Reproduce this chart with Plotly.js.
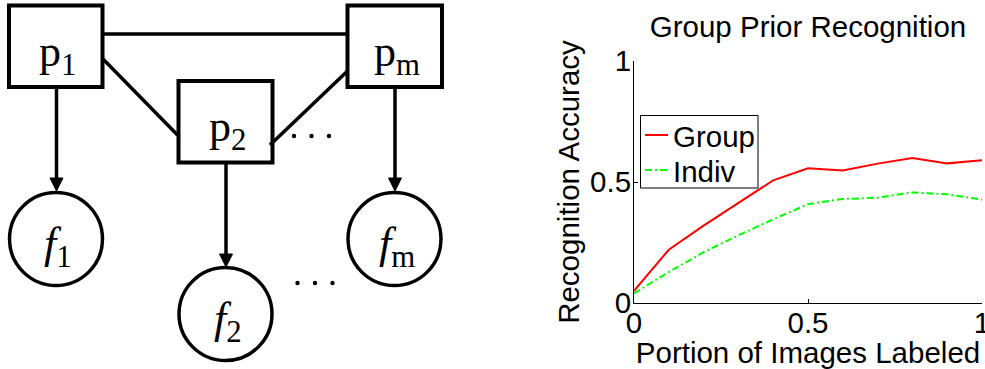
<!DOCTYPE html>
<html>
<head>
<meta charset="utf-8">
<script src="https://cdn.plot.ly/plotly-3.0.1.min.js"></script>
<style>html,body{margin:0;padding:0;background:#fff;}#chart{width:985px;height:369px;}</style>
</head>
<body>
<div id="chart"></div>
<script>
// ---- Chart data ----
const portionLabeled = [0, 0.1, 0.2, 0.3, 0.4, 0.5, 0.6, 0.7, 0.8, 0.9, 1.0];
const groupAccuracy = [0.05, 0.22, 0.32, 0.415, 0.507, 0.557, 0.548, 0.576, 0.599, 0.577, 0.59];
const indivAccuracy = [0.04, 0.128, 0.21, 0.28, 0.346, 0.408, 0.43, 0.435, 0.457, 0.449, 0.427];
const seriesNames = ["Group", "Indiv"];
const xTickVals = [0, 0.5, 1];
const xTickText = ["0", "0.5", "1"];
const yTickVals = [0, 0.5, 1];
const yTickText = ["0", "0.5", "1"];

// ---- Diagram content (graphical model) ----
const boxLabels = ["p<sub>1</sub>", "p<sub>2</sub>", "p<sub>m</sub>"];
const circleLabels = ["<i>f</i><sub>1</sub>", "<i>f</i><sub>2</sub>", "<i>f</i><sub>m</sub>"];

// diagram geometry in page pixels on a hidden axis pair
const boxes = [
  {x0: 9, y0: 5.5, x1: 102.5, y1: 87},
  {x0: 178.5, y0: 81, x1: 272.5, y1: 162.5},
  {x0: 347.5, y0: 5.5, x1: 442, y1: 87}
];
const circles = [
  {cx: 56, cy: 239, r: 46.5},
  {cx: 225.5, cy: 314, r: 46.5},
  {cx: 394.5, cy: 239, r: 46.5}
];
const edges = [
  [103, 34, 347, 34],
  [103, 59, 177.5, 135],
  [347, 71.5, 270, 145]
];
const arrows = [
  [56.5, 88, 56.5, 191],
  [226, 163, 226, 267],
  [395, 88, 395, 191]
];
// ellipsis dots: start x, y, spacing
const ellipses = [[294, 136, 17.5], [297.5, 283, 17.5]];

const shapes = [];
const annotations = [];
boxes.forEach(b => shapes.push({type: 'rect', xref: 'x2', yref: 'y2', x0: b.x0, x1: b.x1, y0: b.y0, y1: b.y1,
  line: {color: '#000', width: 4}, fillcolor: 'rgba(0,0,0,0)'}));
circles.forEach(c => shapes.push({type: 'circle', xref: 'x2', yref: 'y2', x0: c.cx - c.r, x1: c.cx + c.r, y0: c.cy - c.r, y1: c.cy + c.r,
  line: {color: '#000', width: 3.5}}));
edges.forEach(e => shapes.push({type: 'line', xref: 'x2', yref: 'y2', x0: e[0], y0: e[1], x1: e[2], y1: e[3],
  line: {color: '#000', width: 3.5}}));
arrows.forEach(a => {
  shapes.push({type: 'line', xref: 'x2', yref: 'y2', x0: a[0], y0: a[1], x1: a[2], y1: a[3] - 10,
    line: {color: '#000', width: 3.5}});
  const tx = a[2], ty = a[3];
  shapes.push({type: 'path', xref: 'x2', yref: 'y2',
    path: `M ${tx - 6.5},${ty - 13} L ${tx + 6.5},${ty - 13} L ${tx},${ty} Z`,
    fillcolor: '#000', line: {color: '#000', width: 1}});
});
ellipses.forEach(e => {
  for (let k = 0; k < 3; k++) {
    const cx = e[0] + k * e[2];
    shapes.push({type: 'circle', xref: 'x2', yref: 'y2', x0: cx - 2.2, x1: cx + 2.2, y0: e[1] - 2.2, y1: e[1] + 2.2,
      fillcolor: '#000', line: {width: 0}});
  }
});
const serif = 'Liberation Serif, Times New Roman, serif';
boxLabels.forEach((t, i) => {
  const b = boxes[i];
  annotations.push({xref: 'x2', yref: 'y2', x: (b.x0 + b.x1) / 2 + 2, y: (b.y0 + b.y1) / 2 + 8, text: t, showarrow: false,
    font: {family: serif, size: 44, color: '#000'}, xanchor: 'center', yanchor: 'middle'});
});
circleLabels.forEach((t, i) => {
  const c = circles[i];
  annotations.push({xref: 'x2', yref: 'y2', x: c.cx + 2, y: c.cy + 7, text: t, showarrow: false,
    font: {family: serif, size: 44, color: '#000'}, xanchor: 'center', yanchor: 'middle'});
});

const sansFont = 'Liberation Sans, Arial, Helvetica, sans-serif';
const FS = 29.5;
const colors = ['#ff0000', '#00ff00'];
const dashes = ['solid', '7px,3px,2px,3px'];

// legend box drawn in page pixels (above the data lines)
shapes.push({type: 'rect', xref: 'x2', yref: 'y2', x0: 640.5, x1: 758, y0: 115.5, y1: 188, layer: 'above',
  fillcolor: '#fff', line: {color: '#000', width: 1}});
[135, 170].forEach((yy, i) => {
  shapes.push({type: 'line', xref: 'x2', yref: 'y2', x0: 645, x1: 668, y0: yy, y1: yy, layer: 'above',
    line: {color: colors[i], width: 2, dash: dashes[i]}});
  annotations.push({xref: 'x2', yref: 'y2', x: 671, y: yy + 1, text: seriesNames[i], showarrow: false,
    xanchor: 'left', yanchor: 'middle', font: {family: sansFont, size: FS, color: '#000'}});
});

const traces = [
  {x: portionLabeled, y: groupAccuracy, name: seriesNames[0], type: 'scatter', mode: 'lines',
   line: {color: colors[0], width: 2}, xaxis: 'x', yaxis: 'y', showlegend: false},
  {x: portionLabeled, y: indivAccuracy, name: seriesNames[1], type: 'scatter', mode: 'lines',
   line: {color: colors[1], width: 2, dash: dashes[1]}, xaxis: 'x', yaxis: 'y', showlegend: false}
];

const layout = {
  width: 985, height: 369,
  margin: {l: 0, r: 0, t: 0, b: 0, pad: 0, autoexpand: false},
  paper_bgcolor: '#fff', plot_bgcolor: 'rgba(0,0,0,0)',
  font: {family: sansFont, size: FS, color: '#000'},
  title: {text: 'Group Prior Recognition', x: 808 / 985, xanchor: 'center', xref: 'paper',
    y: 1 - 27 / 369, yanchor: 'middle', yref: 'container', font: {family: sansFont, size: FS, color: '#000'}},
  xaxis: {domain: [634 / 985, 982 / 985], range: [0, 1], tickvals: xTickVals, ticktext: xTickText,
    ticks: 'inside', ticklen: 4, tickwidth: 1, tickcolor: '#000', showline: true, linecolor: '#000', linewidth: 1,
    showgrid: false, zeroline: false, mirror: false, fixedrange: true, anchor: 'y', automargin: false,
    ticklabeloverflow: 'allow', ticklabelstandoff: -6,
    tickfont: {family: sansFont, size: FS, color: '#000'},
    title: {text: 'Portion of Images Labeled', font: {family: sansFont, size: FS, color: '#000'}, standoff: 0}},
  yaxis: {domain: [(369 - 303) / 369, (369 - 61) / 369], range: [0, 1], tickvals: yTickVals, ticktext: yTickText,
    ticks: 'inside', ticklen: 4, tickwidth: 1, tickcolor: '#000', showline: true, linecolor: '#000', linewidth: 1,
    showgrid: false, zeroline: false, mirror: false, fixedrange: true, anchor: 'x', automargin: false,
    ticklabeloverflow: 'allow', ticklabelstandoff: -4,
    tickfont: {family: sansFont, size: FS, color: '#000'},
    title: {text: 'Recognition Accuracy', font: {family: sansFont, size: FS, color: '#000'}, standoff: 1}},
  xaxis2: {domain: [0, 1], range: [0, 985], visible: false, fixedrange: true, anchor: 'y2'},
  yaxis2: {domain: [0, 1], range: [369, 0], visible: false, fixedrange: true, anchor: 'x2'},
  showlegend: false,
  shapes: shapes,
  annotations: annotations
};

Plotly.newPlot('chart', traces, layout, {displayModeBar: false, staticPlot: true});
</script>
</body>
</html>
